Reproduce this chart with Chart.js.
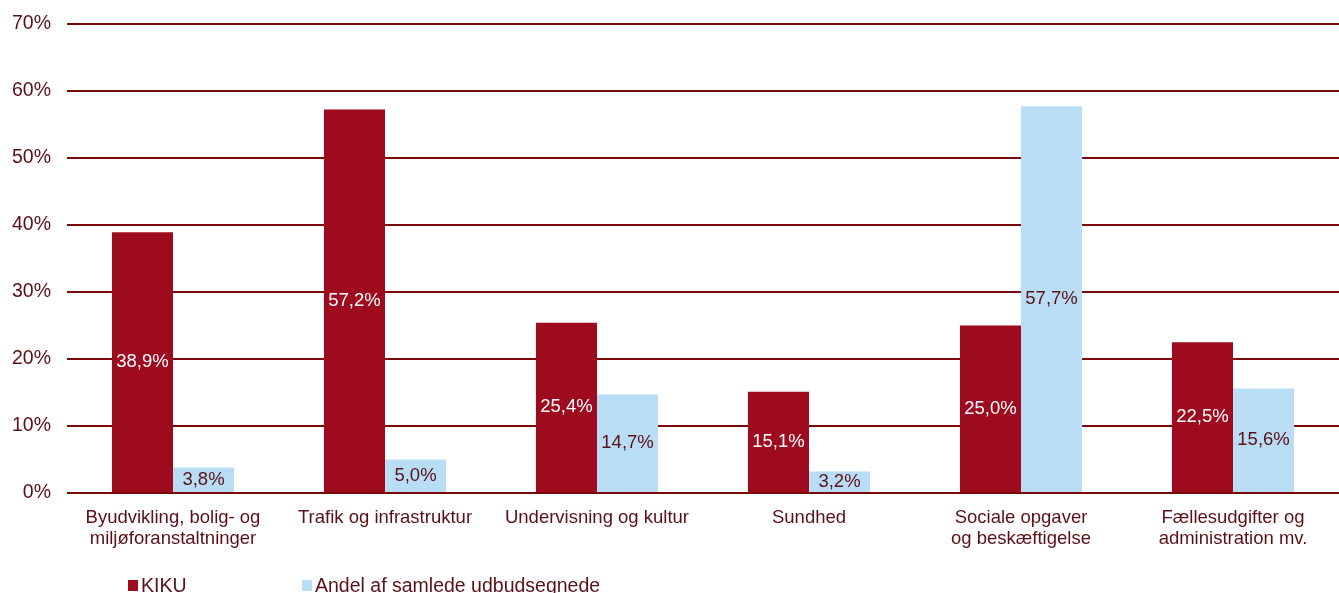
<!DOCTYPE html>
<html>
<head>
<meta charset="utf-8">
<script src="https://cdn.jsdelivr.net/npm/chart.js@4.4.1/dist/chart.umd.min.js"></script>
<style>
  html, body { margin: 0; padding: 0; background: #fff; }
  #wrap { width: 1339px; height: 593px; }
</style>
</head>
<body>
<div id="wrap"><canvas id="myChart"></canvas></div>
<script>
const categories = [
  ["Byudvikling, bolig- og", "miljøforanstaltninger"],
  "Trafik og infrastruktur",
  "Undervisning og kultur",
  "Sundhed",
  ["Sociale opgaver", "og beskæftigelse"],
  ["Fællesudgifter og", "administration mv."]
];
const kikuValues = [38.9, 57.2, 25.4, 15.1, 25.0, 22.5];
const andelValues = [3.8, 5.0, 14.7, 3.2, 57.7, 15.6];
const seriesNames = ["KIKU", "Andel af samlede udbudsegnede"];
const yTicks = [0, 10, 20, 30, 40, 50, 60, 70];

const textColor = "#5a1016";
const gridColor = "#7a0a0a";
const fontFamily = "'Liberation Sans', Arial, sans-serif";

function fmt(v) {
  return v.toFixed(1).replace(".", ",") + "%";
}

const barLabels = {
  id: "barLabels",
  afterDatasetsDraw(chart) {
    const ctx = chart.ctx;
    ctx.save();
    ctx.font = "18.5px " + fontFamily;
    ctx.textAlign = "center";
    ctx.textBaseline = "middle";
    chart.data.datasets.forEach((ds, di) => {
      const meta = chart.getDatasetMeta(di);
      meta.data.forEach((bar, i) => {
        ctx.fillStyle = di === 0 ? "#ffffff" : textColor;
        ctx.fillText(fmt(ds.data[i]), bar.x, (bar.y + bar.base) / 2);
      });
    });
    ctx.restore();
  }
};

const bottomLegend = {
  id: "bottomLegend",
  afterDraw(chart) {
    const ctx = chart.ctx;
    const starts = [128, 302];
    ctx.save();
    ctx.font = "19.5px " + fontFamily;
    ctx.textBaseline = "middle";
    ctx.textAlign = "left";
    chart.data.datasets.forEach((ds, di) => {
      const x = starts[di];
      ctx.fillStyle = ds.backgroundColor;
      ctx.fillRect(x, 580, 10, 11);
      ctx.fillStyle = textColor;
      ctx.fillText(ds.label, x + 13, 587);
    });
    ctx.restore();
  }
};

let ctx = document.getElementById("myChart").getContext("2d");
let myChart = new Chart(ctx, {
  type: "bar",
  data: {
    labels: categories,
    datasets: [
      {
        label: seriesNames[0],
        data: kikuValues,
        backgroundColor: "#9e0b1f",
        categoryPercentage: 0.576,
        barPercentage: 1.0
      },
      {
        label: seriesNames[1],
        data: andelValues,
        backgroundColor: "#b8ddf4",
        categoryPercentage: 0.576,
        barPercentage: 1.0
      }
    ]
  },
  options: {
    responsive: true,
    maintainAspectRatio: false,
    animation: false,
    layout: { padding: { top: 10, right: 0, bottom: 0, left: 0 } },
    plugins: {
      legend: { display: false },
      tooltip: { enabled: false }
    },
    scales: {
      x: {
        grid: { display: false, drawTicks: false },
        border: { display: false },
        ticks: {
          color: textColor,
          font: { size: 18.5, family: fontFamily, lineHeight: 1.1 },
          padding: 15,
          maxRotation: 0,
          autoSkip: false
        },
        afterFit(scale) { scale.height = 100; }
      },
      y: {
        min: 0,
        max: 70,
        afterBuildTicks(scale) {
          scale.ticks = yTicks.map(v => ({ value: v }));
        },
        grid: { color: gridColor, lineWidth: 2, drawTicks: false },
        border: { display: false },
        ticks: {
          color: textColor,
          font: { size: 19.5, family: fontFamily, lineHeight: 0.8 },
          padding: 16,
          callback: v => v + "%"
        },
        afterFit(scale) { scale.width = 67; }
      }
    }
  },
  plugins: [barLabels, bottomLegend]
});
</script>
</body>
</html>
